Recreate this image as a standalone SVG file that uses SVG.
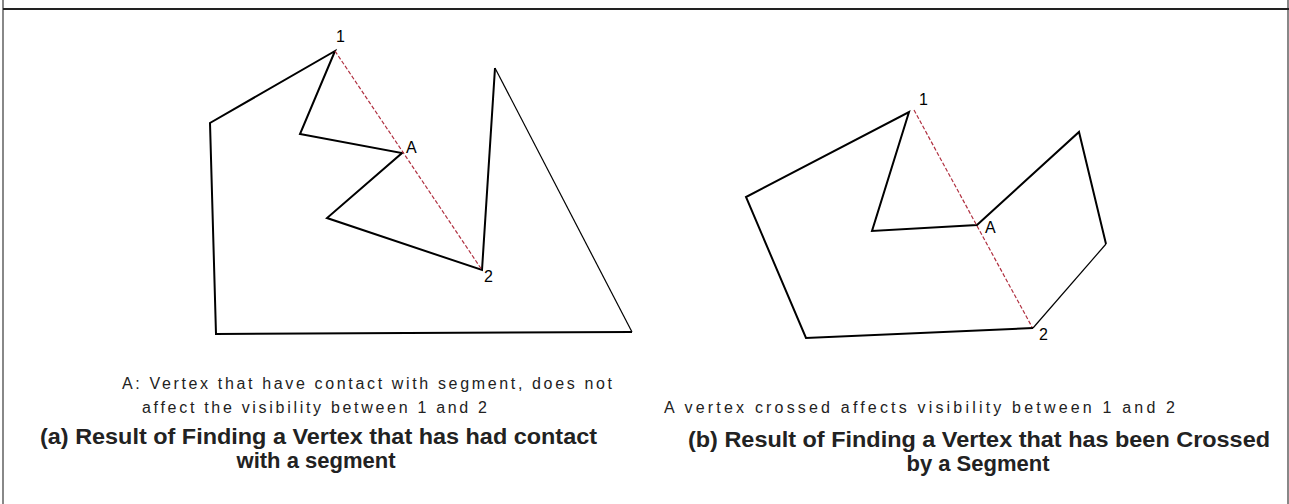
<svg xmlns="http://www.w3.org/2000/svg" width="1289" height="504" viewBox="0 0 1289 504">
<style>
.poly{fill:none;stroke:#000;stroke-width:2;stroke-linejoin:miter}
.thin{stroke-width:1.2}
.seg{fill:none;stroke:#b03040;stroke-width:1.2;stroke-dasharray:4,2}
.lbl{font-family:"Liberation Sans",Arial,sans-serif;font-size:16px;fill:#000}
.note{font-family:"Liberation Sans",Arial,sans-serif;font-size:16px;fill:#222}
.cap{font-family:"Liberation Sans",Arial,sans-serif;font-size:22px;font-weight:bold;fill:#222}
</style>
<rect width="1289" height="504" fill="#fff"/>
<g id="frame">
<line x1="3" y1="0" x2="3" y2="504" stroke="#888" stroke-width="2"/>
<line x1="1288" y1="0" x2="1288" y2="504" stroke="#888" stroke-width="2"/>
<line x1="3" y1="9" x2="1289" y2="9" stroke="#222" stroke-width="2"/>
</g>
<g id="polygon-a">
<polyline class="poly" points="495,68 482,270 327,218 402,153 300,134 335,51 210,123 216,334 632,332"/>
<line class="poly thin" x1="632" y1="332" x2="495" y2="68"/>
</g>
<g id="polygon-b">
<polyline class="poly" points="1106,244 1079,132 977,225 872,231 909,112 746,197 806,338 1033,328"/>
<line class="poly thin" x1="1033" y1="328" x2="1106" y2="244"/>
</g>
<g id="connectors">
<line class="seg" x1="335" y1="51" x2="482" y2="270"/>
<line class="seg" x1="914" y1="110" x2="1032" y2="327"/>
</g>
<g id="labels-a">
<text class="lbl" x="336" y="42">1</text>
<text class="lbl" x="406" y="153">A</text>
<text class="lbl" x="484" y="282">2</text>
</g>
<g id="labels-b">
<text class="lbl" x="919" y="105">1</text>
<text class="lbl" x="985" y="233">A</text>
<text class="lbl" x="1039" y="340">2</text>
</g>
<g id="caption-a">
<text class="note" x="122" y="389" textLength="490">A: Vertex that have contact with segment, does not</text>
<text class="note" x="142" y="413" textLength="345">affect the visibility between 1 and 2</text>
<text class="cap" x="40" y="444" textLength="557" lengthAdjust="spacingAndGlyphs">(a) Result of Finding a Vertex that has had contact</text>
<text class="cap" x="316" y="468" text-anchor="middle">with a segment</text>
</g>
<g id="caption-b">
<text class="note" x="664" y="413" textLength="511">A vertex crossed affects visibility between 1 and 2</text>
<text class="cap" x="688" y="447" textLength="582" lengthAdjust="spacingAndGlyphs">(b) Result of Finding a Vertex that has been Crossed</text>
<text class="cap" x="978" y="471" text-anchor="middle">by a Segment</text>
</g>
</svg>
